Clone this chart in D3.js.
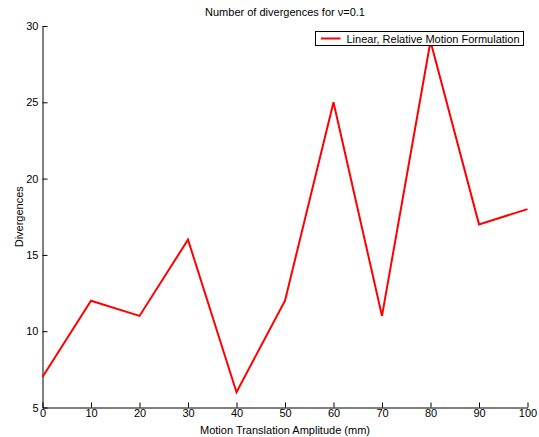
<!DOCTYPE html>
<html>
<head>
<meta charset="utf-8">
<script src="https://cdn.jsdelivr.net/npm/d3@7"></script>
<style>
  body { margin: 0; background: #fff; }
  svg { display: block; }
  text { font-family: "Liberation Sans", Arial, Helvetica, sans-serif; fill: #000; }
</style>
</head>
<body>
<svg id="chart" width="539" height="437"></svg>
<script>
// Number of divergences per translation amplitude
const amplitudes = [0, 10, 20, 30, 40, 50, 60, 70, 80, 90, 100];
const divergences = [7, 12, 11, 16, 6, 12, 25, 11, 29, 17, 18];
const xTicks = [0, 10, 20, 30, 40, 50, 60, 70, 80, 90, 100];
const yTicks = [5, 10, 15, 20, 25, 30];
const seriesName = "Linear, Relative Motion Formulation";

const svg = d3.select("#chart");
const margin = { left: 42.5, right: 11.5, top: 26, bottom: 29.5 };
const W = 539, H = 437;

const x = d3.scaleLinear().domain([0, 100]).range([margin.left, W - margin.right]);
const y = d3.scaleLinear().domain([5, 30]).range([H - margin.bottom, margin.top]);

// Axes with inward ticks
const xAxis = d3.axisBottom(x).tickValues(xTicks).tickSizeInner(-5).tickSizeOuter(0).tickPadding(3);
const yAxis = d3.axisLeft(y).tickValues(yTicks).tickSizeInner(-5).tickSizeOuter(0).tickPadding(4);

const gx = svg.append("g").attr("transform", `translate(0,${y(5)})`).call(xAxis);
const gy = svg.append("g").attr("transform", `translate(${x(0)},0)`).call(yAxis);
[gx, gy].forEach(g => {
  g.select(".domain").attr("stroke", "#000").attr("stroke-width", 1);
  g.selectAll(".tick line").attr("stroke", "#000");
  g.selectAll(".tick text").attr("font-size", 11).attr("fill", "#000")
    .style("font-family", "'Liberation Sans', Arial, sans-serif");
});
gx.selectAll(".tick text").attr("dy", "0.6em");

// Series line
const line = d3.line().x((d, i) => x(amplitudes[i])).y(d => y(d));
svg.append("path")
  .datum(divergences)
  .attr("fill", "none")
  .attr("stroke", "#ff0000")
  .attr("stroke-width", 2)
  .attr("stroke-linejoin", "miter")
  .attr("d", line);

// Title and axis labels
svg.append("text").attr("x", (x(0) + x(100)) / 2).attr("y", 16)
  .attr("text-anchor", "middle").attr("font-size", 11).text("Number of divergences for \u03bd=0.1");
svg.append("text").attr("x", (x(0) + x(100)) / 2).attr("y", 434)
  .attr("text-anchor", "middle").attr("font-size", 11).text("Motion Translation Amplitude (mm)");
svg.append("text")
  .attr("transform", `translate(23,${(y(5) + y(30)) / 2}) rotate(-90)`)
  .attr("text-anchor", "middle").attr("font-size", 11).text("Divergences");

// Legend
const lg = svg.append("g").attr("transform", "translate(315.5,31.5)");
lg.append("rect").attr("width", 208).attr("height", 14)
  .attr("fill", "#fff").attr("stroke", "#000").attr("stroke-width", 1);
lg.append("line").attr("x1", 5.5).attr("x2", 25).attr("y1", 7).attr("y2", 7)
  .attr("stroke", "#ff0000").attr("stroke-width", 2);
lg.append("text").attr("x", 31).attr("y", 11).attr("font-size", 11).text(seriesName);
</script>
</body>
</html>
